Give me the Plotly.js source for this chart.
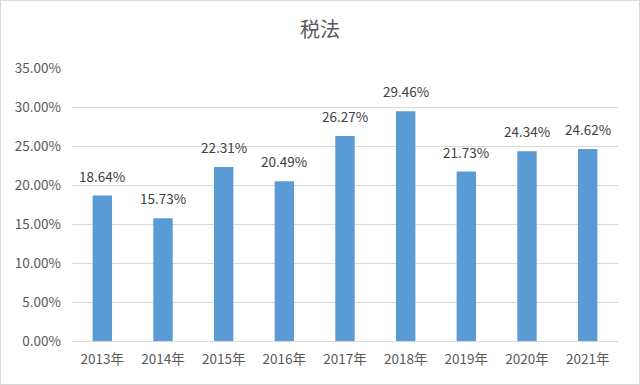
<!DOCTYPE html>
<html><head><meta charset="utf-8">
<script src="https://cdn.plot.ly/plotly-3.0.1.min.js"></script>
<style>
html,body{margin:0;padding:0;background:#fff;}
#c{width:638px;height:383px;border:1px solid #d9d9d9;}
</style></head><body>
<div id="c"></div>
<script>
const years = ["2013年","2014年","2015年","2016年","2017年","2018年","2019年","2020年","2021年"];
const rates = [0.1864,0.1573,0.2231,0.2049,0.2627,0.2946,0.2173,0.2434,0.2462];
const chartTitle = "税法";

const font = "'Noto Sans CJK SC', 'Microsoft YaHei', sans-serif";
const labels = years.map((yr, i) => ({
  x: yr, y: rates[i], xref:'x', yref:'y',
  text: (rates[i]*100).toFixed(2) + '%',
  showarrow:false, yanchor:'bottom', yshift:8,
  font:{family:font, size:13.5, color:'#404040'}
}));
Plotly.newPlot('c', [{
  type:'bar', x: years, y: rates,
  marker:{color:'#5b9bd5'},
  hoverinfo:'none'
}], {
  width:638, height:383,
  margin:{l:71, r:21, t:67, b:43},
  paper_bgcolor:'#fff', plot_bgcolor:'#fff',
  bargap:0.68,
  showlegend:false,
  annotations: labels,
  title:{text:chartTitle, x:0.5, xanchor:'center', y:0.925, yanchor:'middle',
    font:{family:font, size:20, color:'#595959'}},
  xaxis:{type:'category', showgrid:false, showline:true, linecolor:'#d9d9d9', linewidth:1,
    ticks:'', ticklabelstandoff:6, tickfont:{family:font, size:13.5, color:'#595959'}, fixedrange:true},
  yaxis:{range:[0,0.35], dtick:0.05, tickformat:'.2%', showgrid:true, gridcolor:'#d9d9d9',
    zeroline:false, showline:false, ticks:'', ticklabelstandoff:10,
    tickfont:{family:font, size:13.5, color:'#595959'}, fixedrange:true}
}, {staticPlot:true});
</script></body></html>
